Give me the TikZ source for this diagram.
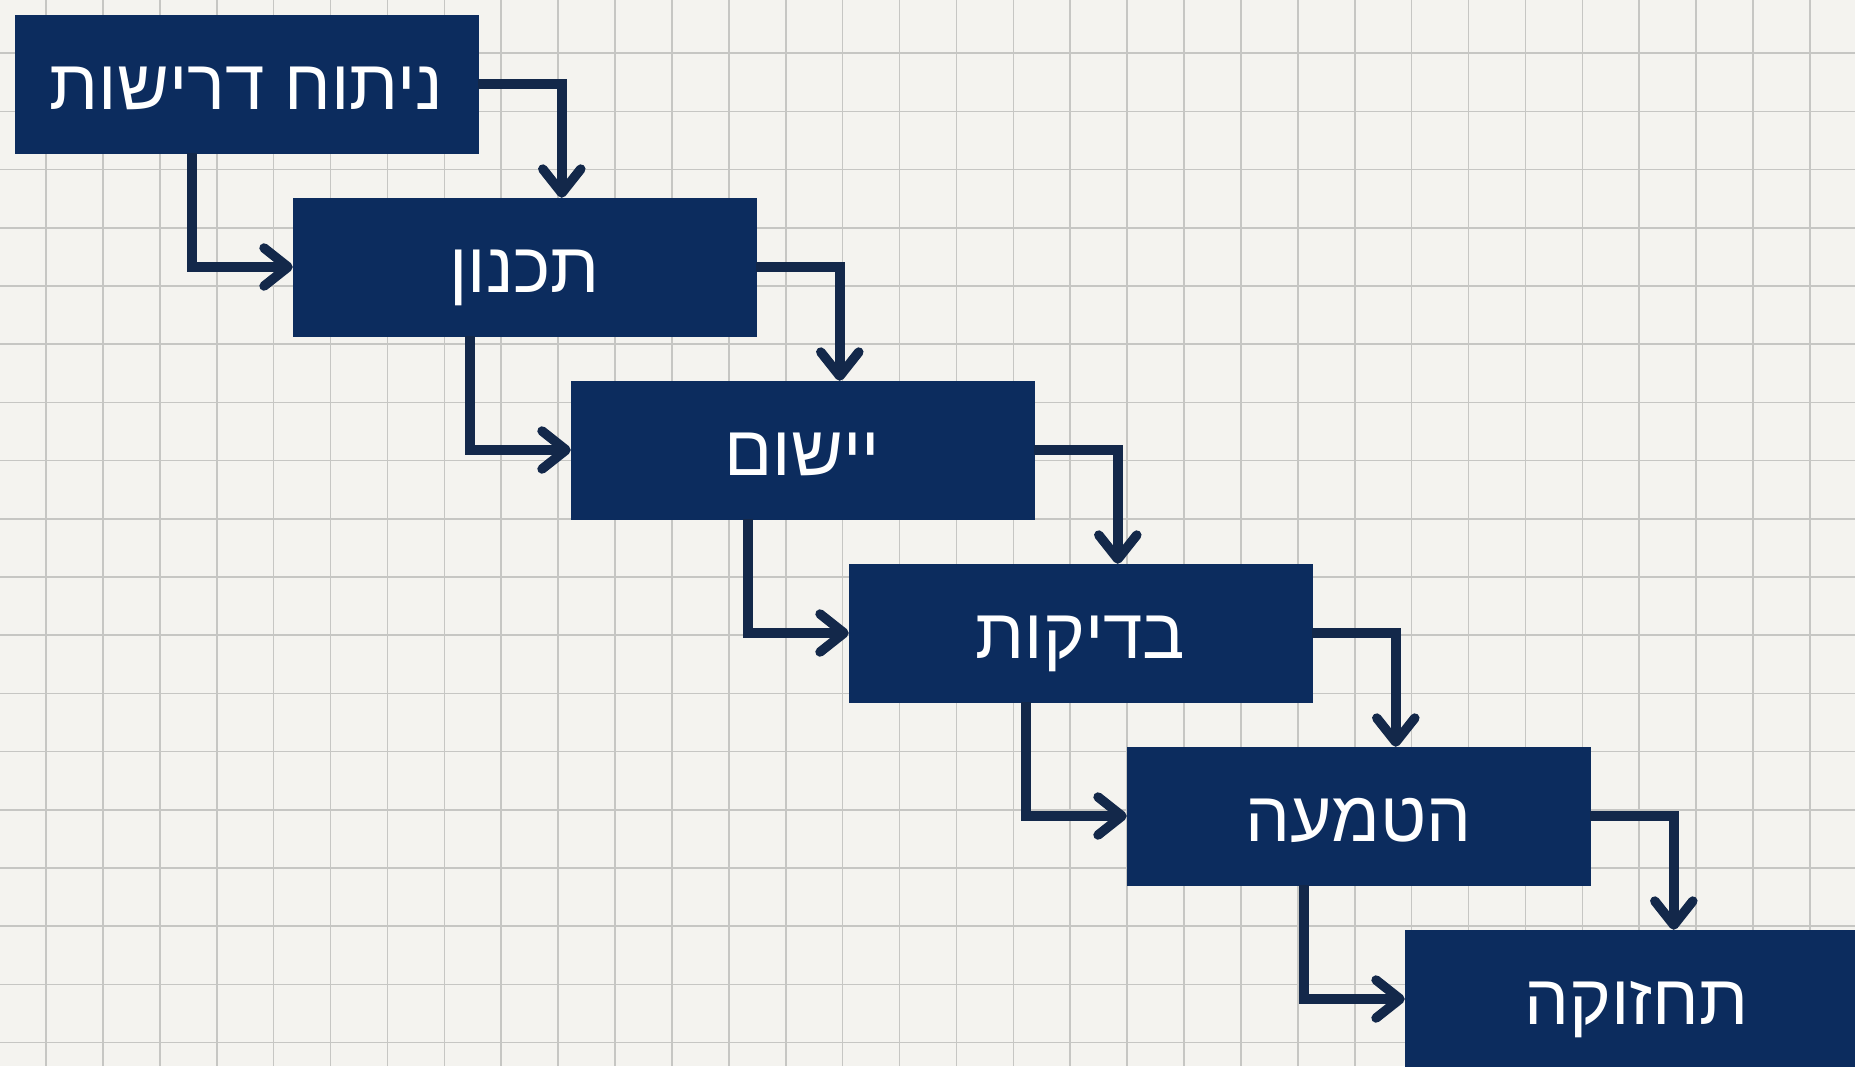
\documentclass[tikz,border=0pt]{standalone}
\usepackage{fontspec}
\TeXXeTstate=1
\newfontfamily\hebfont[Script=Hebrew]{Liberation Sans}
\usetikzlibrary{arrows.meta}
\definecolor{paper}{HTML}{F4F3EF}
\definecolor{gridc}{HTML}{C6C6C3}
\definecolor{boxc}{HTML}{0C2C5E}
\definecolor{arrc}{HTML}{13284A}
\tikzset{
  stage/.style={fill=boxc, draw=boxc, minimum width=463pt, minimum height=138pt, inner sep=0pt,
    text=white, text height=50pt, text depth=0pt, font=\hebfont\fontsize{71}{78}\selectfont},
  flow/.style={draw=arrc, line width=9.5pt, line join=miter,
    -{Straight Barb[length=24pt, width=38pt, line width=9.5pt, round]}}
}
\begin{document}
\begin{tikzpicture}[x=1pt, y=-1pt]
\useasboundingbox (0,0) rectangle (1855,1066);
\clip (0,0) rectangle (1855,1066);
\fill[paper] (0,0) rectangle (1855,1066);
% grid
\foreach \k in {0,...,31} {
  \draw[gridc, line width=1.6pt] ({46+56.9*\k},0) -- ({46+56.9*\k},1066);
}
\foreach \k in {0,...,18} {
  \draw[gridc, line width=1.6pt] (0,{-5+58.2*\k}) -- (1855,{-5+58.2*\k});
}
% stages
\node[stage] (b1) at (246.5,84) {\beginR ניתוח דרישות\endR};
\node[stage] (b2) at (524.5,267) {\beginR תכנון\endR};
\node[stage] (b3) at (802.5,450) {\beginR יישום\endR};
\node[stage] (b4) at (1080.5,633) {\beginR בדיקות\endR};
\node[stage] (b5) at (1358.5,816) {\beginR הטמעה\endR};
\node[stage] (b6) at (1636.5,999) {\beginR תחזוקה\endR};
% connectors
\foreach \a/\b in {b1/b2,b2/b3,b3/b4,b4/b5,b5/b6} {
  \draw[flow] (\a.east) -| ([xshift=269pt]\b.north west);
  \draw[flow] ([xshift=177pt]\a.south west) |- (\b.west);
}
\end{tikzpicture}
\end{document}
